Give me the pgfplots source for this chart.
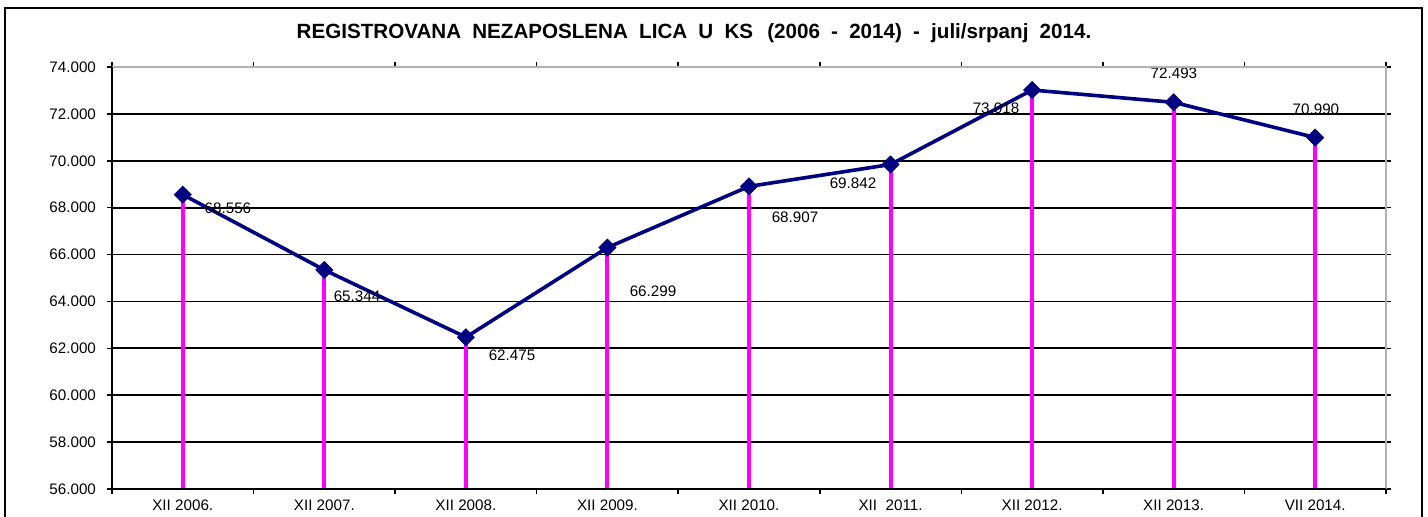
\documentclass[border=0pt]{standalone}
\usepackage{pgfplots}
\pgfplotsset{compat=1.18}
\usepackage{fontspec}
\setmainfont{Liberation Sans}
\definecolor{navyline}{RGB}{0,0,128}
\definecolor{dropline}{RGB}{255,0,255}
\pgfplotstableread{
x y
0 68556
1 65344
2 62475
3 66299
4 68907
5 69842
6 73018
7 72493
8 70990
}\datatable
\begin{document}
\begin{tikzpicture}[x=1pt,y=1pt]
\begin{axis}[at={(56pt,13.5pt)}, anchor=south west, scale only axis,
  width=637pt, height=211pt,
  xmin=-0.5, xmax=8.5, ymin=56000, ymax=74000,
  ytick={56000,58000,60000,62000,64000,66000,68000,70000,72000,74000},
  scaled y ticks=false,
  /pgf/number format/1000 sep={.},
  /pgf/number format/assume math mode=true,
  yticklabel style={font=\fontsize{7.6}{9}\selectfont, xshift=-2pt},
  xtick={-0.5,0.5,1.5,2.5,3.5,4.5,5.5,6.5,7.5,8.5},
  xticklabels={},
  extra x ticks={0,1,2,3,4,5,6,7,8},
  extra x tick labels={XII 2006.,XII 2007.,XII 2008.,XII 2009.,XII 2010.,XII\ \ 2011.,XII 2012.,XII 2013.,VII 2014.},
  extra x tick style={major tick length=0pt, grid=none},
  xticklabel style={font=\fontsize{7.6}{9}\selectfont, yshift=-2pt},
  tick align=outside, major tick length=2.5pt,
  tick style={black, line width=0.8pt},
  ymajorgrids, major grid style={black, line width=0.9pt},
  axis line style={draw=none},
]
\addplot[navyline, line width=1.8pt, mark=square*, mark size=3pt,
  mark options={rotate=45, fill=navyline, draw=navyline, line width=0.4pt}] table[x=x,y=y] {\datatable};
\addplot[ycomb, dropline, line width=2pt] table[x=x,y=y] {\datatable};
\begin{scope}[font=\fontsize{7.6}{9}\selectfont]
\node at (axis cs:0.319,67980) {68.556};
\node at (axis cs:1.231,64230) {65.344};
\node at (axis cs:2.326,61710) {62.475};
\node at (axis cs:3.322,64440) {66.299};
\node at (axis cs:4.325,67600) {68.907};
\node at (axis cs:4.735,69050) {69.842};
\node at (axis cs:5.745,72250) {73.018};
\node at (axis cs:7.002,73740) {72.493};
\node at (axis cs:8.005,72210) {70.990};
\end{scope}
\end{axis}
\draw[gray!60, line width=1pt] (56,224.5) -- (693,224.5) -- (693,13.5);
\draw[black, line width=1.3pt] (56,224.5) -- (56,13.5) -- (693,13.5);
\draw[line width=1.2pt] (2.5,-5) rectangle (711,254);
\node[font=\fontsize{10.3}{12}\selectfont\bfseries] at (347,241.5) {\spaceskip=5.6pt REGISTROVANA NEZAPOSLENA LICA U KS \hspace{1.5pt}(2006 - 2014) - juli/srpanj 2014.};
\pgfresetboundingbox
\useasboundingbox (0,0) rectangle (714,258);
\end{tikzpicture}
\end{document}
